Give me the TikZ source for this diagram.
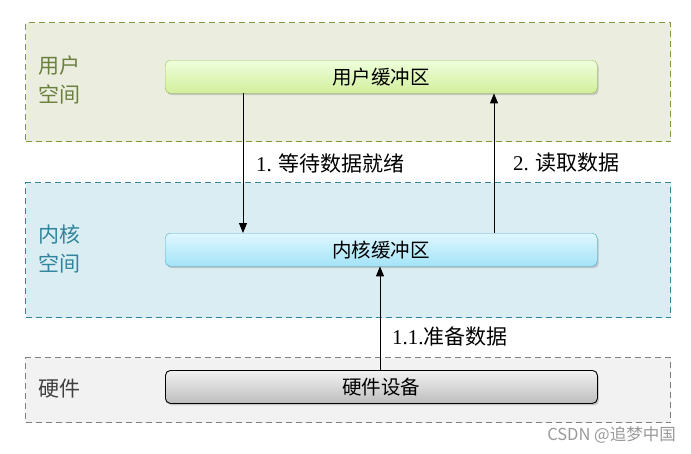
\documentclass[tikz,border=0pt]{standalone}
\usepackage{fontspec}
\newfontfamily\cjk{Noto Sans CJK SC}
\setmainfont{Liberation Serif}
\usetikzlibrary{shadows,arrows.meta}
\definecolor{userfill}{HTML}{EBEEDF}
\definecolor{userborder}{HTML}{7D9A3A}
\definecolor{usertext}{HTML}{6B7F3F}
\definecolor{kernfill}{HTML}{DAEDF3}
\definecolor{kernborder}{HTML}{31849B}
\definecolor{hwfill}{HTML}{F2F2F2}
\definecolor{hwborder}{HTML}{7F7F7F}
\definecolor{ubtop}{HTML}{EEFFDC}
\definecolor{ubbot}{HTML}{D2EE9C}
\definecolor{ubdraw}{HTML}{9BBB59}
\definecolor{kbtop}{HTML}{E0F7FF}
\definecolor{kbbot}{HTML}{A3E3F7}
\definecolor{kbdraw}{HTML}{4BACC6}
\definecolor{hbtop}{HTML}{F2F2F2}
\definecolor{hbbot}{HTML}{BDBDBD}
\tikzset{
  region/.style={draw, dashed, line width=1.3pt, dash pattern=on 6pt off 4pt, minimum width=645pt, anchor=north west, inner sep=0pt},
  buf/.style={rounded corners=5pt, minimum width=432pt, minimum height=33pt, anchor=north west, inner sep=0pt,
     drop shadow={shadow xshift=1.5pt, shadow yshift=-2pt, opacity=0.35}, font=\cjk\fontsize{19.5}{22}\selectfont},
  rlabel/.style={anchor=north west, align=left, inner sep=0pt, font=\cjk\fontsize{21}{29}\selectfont},
  elabel/.style={anchor=west, inner sep=0pt, font=\fontsize{21}{23}\selectfont},
  arr/.style={line width=1pt, -{Triangle[length=10pt,width=8pt]}}
}
\begin{document}
\begin{tikzpicture}[x=1pt,y=-1pt]
\useasboundingbox (0,0) rectangle (691,453);
\node[region, fill=userfill, draw=userborder, minimum height=119pt] (ur) at (25,22) {};
\node[region, fill=kernfill, draw=kernborder, minimum height=135pt] (kr) at (25,182) {};
\node[region, fill=hwfill, draw=hwborder, minimum height=65pt] (hr) at (25,357) {};
\node[rlabel, text=usertext] (ul) at (38,56) {用户\\空间};
\node[rlabel, text=kernborder] (kl) at (38,225) {内核\\空间};
\node[rlabel, text=black!75] (hl) at (38,379) {硬件};
\node[buf, draw=ubdraw, top color=ubtop, bottom color=ubbot] (ub) at (165,60) {用户缓冲区};
\node[buf, draw=kbdraw, top color=kbtop, bottom color=kbbot] (kb) at (165,233) {内核缓冲区};
\node[buf, draw=black, line width=0.9pt, top color=hbtop, bottom color=hbbot] (hb) at (165,370) {硬件设备};
\coordinate (c1) at (243,0);
\coordinate (c2) at (494,0);
\coordinate (c3) at (380,0);
\draw[arr] (ub.south -| c1) -- (kb.north -| c1);
\draw[arr] (kb.north -| c2) -- (ub.south -| c2);
\draw[arr] (hb.north -| c3) -- (kb.south -| c3);
\node[elabel] (l1) at (256,163) {1. {\cjk 等待数据就绪}};
\node[elabel] (l2) at (513,163) {2. {\cjk 读取数据}};
\node[elabel] (l3) at (392,337) {1.1.{\cjk 准备数据}};
\node[anchor=east, inner sep=0pt, text=black!40, font=\cjk\fontsize{16.5}{18}\selectfont] (wm) at (676,435) {CSDN @追梦中国};
\end{tikzpicture}
\end{document}
